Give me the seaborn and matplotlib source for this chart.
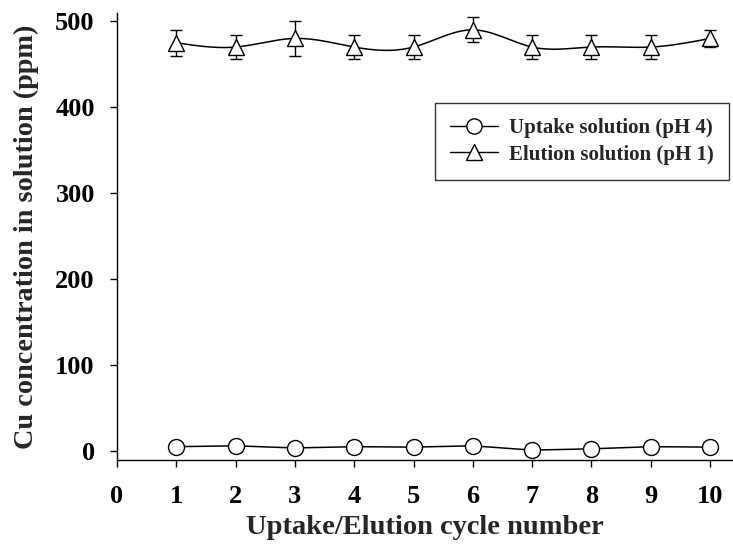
import numpy as np
import pandas as pd
import matplotlib
matplotlib.use("Agg")
import matplotlib.pyplot as plt
import seaborn as sns
from matplotlib.lines import Line2D

cycles = [1, 2, 3, 4, 5, 6, 7, 8, 9, 10]
uptake = [5, 6, 3.5, 5, 4.5, 6, 1, 2.5, 5, 4.5]
elution = [475, 470, 480, 470, 470, 490, 470, 470, 470, 480]
elution_err = [15, 14.5, 20, 14.5, 14.5, 14.5, 14.5, 14.5, 14.5, 10]
xtick_labels = ["0", "1", "2", "3", "4", "5", "6", "7", "8", "9", "10"]
ytick_values = [0, 100, 200, 300, 400, 500]
label_uptake = "Uptake solution (pH 4)"
label_elution = "Elution solution (pH 1)"


def natural_spline(x, y, xs):
    x = np.asarray(x, float)
    y = np.asarray(y, float)
    n = len(x)
    h = np.diff(x)
    A = np.zeros((n, n))
    r = np.zeros(n)
    A[0, 0] = 1
    A[-1, -1] = 1
    for i in range(1, n - 1):
        A[i, i - 1] = h[i - 1]
        A[i, i] = 2 * (h[i - 1] + h[i])
        A[i, i + 1] = h[i]
        r[i] = 3 * ((y[i + 1] - y[i]) / h[i] - (y[i] - y[i - 1]) / h[i - 1])
    c = np.linalg.solve(A, r)
    b = (np.diff(y) / h) - h * (2 * c[:-1] + c[1:]) / 3
    d = np.diff(c) / (3 * h)
    idx = np.clip(np.searchsorted(x, xs) - 1, 0, n - 2)
    dx = xs - x[idx]
    return y[idx] + b[idx] * dx + c[idx] * dx ** 2 + d[idx] * dx ** 3


sns.set_style("ticks")
plt.rcParams["font.family"] = ["Liberation Serif", "DejaVu Serif"]
plt.rcParams["font.weight"] = "bold"

fig = plt.figure(figsize=(7.33, 5.6), dpi=100)
ax = fig.add_axes([117 / 733, 100 / 560, (732 - 117) / 733, (460 - 13) / 560])

df_up = pd.DataFrame({"cycle": cycles, "value": uptake})
xs = np.linspace(cycles[0], cycles[-1], 400)
df_el_curve = pd.DataFrame({"cycle": xs, "value": natural_spline(cycles, elution, xs)})
df_el = pd.DataFrame({"cycle": cycles, "value": elution, "err": elution_err})

ax.errorbar(df_el["cycle"], df_el["value"], yerr=df_el["err"], fmt="none",
            ecolor="black", elinewidth=1.0, capsize=4.5, capthick=1.0, zorder=2)
sns.lineplot(data=df_el_curve, x="cycle", y="value", ax=ax, color="black",
             linewidth=1.1, zorder=3)
ax.plot(df_el["cycle"], df_el["value"], linestyle="none", marker="^",
        markersize=12, markerfacecolor="white", markeredgecolor="black",
        markeredgewidth=1.0, zorder=4)

sns.lineplot(data=df_up, x="cycle", y="value", ax=ax, color="black",
             linewidth=1.1, zorder=3)
ax.plot(df_up["cycle"], df_up["value"], linestyle="none", marker="o",
        markersize=11.5, markerfacecolor="white", markeredgecolor="black",
        markeredgewidth=1.0, zorder=4)

ax.set_xlim(0, 10.37)
ax.set_ylim(-10.5, 509.6)
ax.set_xticks(range(0, 11))
ax.set_xticklabels(xtick_labels)
ax.set_yticks(ytick_values)
ax.set_yticklabels([str(v) for v in ytick_values])
ax.tick_params(axis="both", direction="out", length=5, width=1.0, labelsize=19, colors="black")
ax.tick_params(axis="x", pad=13)
ax.tick_params(axis="y", pad=11)
for lab in ax.get_xticklabels() + ax.get_yticklabels():
    lab.set_fontweight("bold")

for s in ["top", "right"]:
    ax.spines[s].set_visible(False)
for s in ["left", "bottom"]:
    ax.spines[s].set_linewidth(1.0)
    ax.spines[s].set_color("black")

ax.set_xlabel("Uptake/Elution cycle number", fontsize=20.5, fontweight="bold", labelpad=5)
ax.set_ylabel("Cu concentration in solution (ppm)", fontsize=20.3, fontweight="bold", labelpad=12)

handles = [
    Line2D([0], [0], color="black", linewidth=1.0, marker="o", markersize=11,
           markerfacecolor="white", markeredgecolor="black"),
    Line2D([0], [0], color="black", linewidth=1.0, marker="^", markersize=11.5,
           markerfacecolor="white", markeredgecolor="black"),
]
leg = ax.legend(handles, [label_uptake, label_elution], loc="upper left",
                bbox_to_anchor=(435 / 733, 1 - 103 / 560), bbox_transform=fig.transFigure,
                borderaxespad=0, fancybox=False, frameon=True, edgecolor="black",
                prop={"family": "Liberation Serif", "weight": "bold", "size": 15},
                handlelength=2.3, borderpad=0.72, labelspacing=0.32, handletextpad=0.55)
leg.get_frame().set_linewidth(1.0)

fig.savefig("out.png", dpi=100)
